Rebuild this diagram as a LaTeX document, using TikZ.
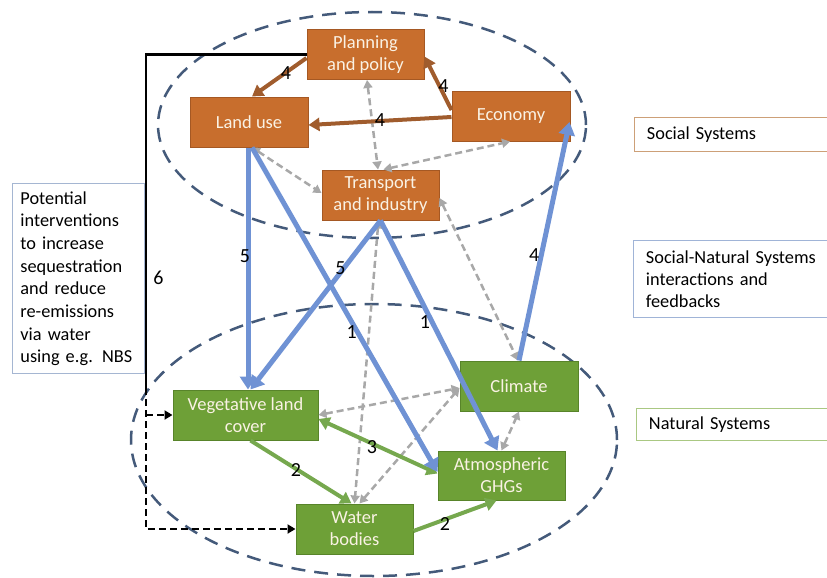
\documentclass[tikz,border=0pt]{standalone}
\usepackage{fontspec}
\setmainfont{Carlito}
\usetikzlibrary{arrows.meta}
\definecolor{orfill}{RGB}{200,110,45}
\definecolor{ordraw}{RGB}{165,88,35}
\definecolor{grfill}{RGB}{110,160,55}
\definecolor{grdraw}{RGB}{88,132,42}
\definecolor{nodetext}{RGB}{250,242,228}
\definecolor{bluearr}{RGB}{111,146,212}
\definecolor{brownarr}{RGB}{160,92,45}
\definecolor{greenarr}{RGB}{118,168,78}
\definecolor{grayarr}{RGB}{168,168,168}
\definecolor{ellcol}{RGB}{68,90,122}
\definecolor{boxsoc}{RGB}{205,160,120}
\definecolor{boxmix}{RGB}{160,180,215}
\definecolor{boxnat}{RGB}{170,200,130}
\definecolor{boxint}{RGB}{165,182,210}
\begin{document}
\begin{tikzpicture}[x=1pt,y=-1pt,
  basebox/.style={draw, line width=1pt, inner sep=2pt, align=center, text=nodetext,
    font=\fontsize{18.5}{22}\selectfont, minimum height=50pt},
  social/.style={basebox, fill=orfill, draw=ordraw},
  natural/.style={basebox, fill=grfill, draw=grdraw},
  blue/.style={draw=bluearr, line width=5pt, -{Triangle[length=13pt,width=16pt]}},
  brown/.style={draw=brownarr, line width=4pt, -{Triangle[length=11pt,width=13pt]}},
  green/.style={draw=greenarr, line width=4pt, -{Triangle[length=11pt,width=13pt]}},
  greenboth/.style={draw=greenarr, line width=4pt, {Triangle[length=11pt,width=13pt]}-{Triangle[length=11pt,width=13pt]}},
  grayboth/.style={draw=grayarr, line width=2.5pt, dash pattern=on 7pt off 4pt,
    {Triangle[length=8pt,width=9pt]}-{Triangle[length=8pt,width=9pt]}},
  lab/.style={font=\fontsize{20}{20}\selectfont, text=black, inner sep=0pt},
  ell/.style={draw=ellcol, line width=2.5pt, dash pattern=on 14pt off 9pt},
  sidebox/.style={draw, line width=0.9pt, anchor=north west, align=left, text=black,
    font=\fontsize{18.3}{22}\selectfont, inner xsep=10pt}
]
\useasboundingbox (0,0) rectangle (827,578);
\clip (0,0) rectangle (827,578);

% system ellipses
\draw[ell] (372,125) ellipse [x radius=214pt, y radius=113pt];
\draw[ell] (374,440) ellipse [x radius=243pt, y radius=136pt];

% nodes
\node[social, minimum width=117pt] (pp) at (365.5,54.5) {Planning\\and policy};
\node[social, minimum width=118pt] (lu) at (249,122) {Land use};
\node[social, minimum width=118pt] (eco) at (511,116) {Economy};
\node[social, minimum width=117pt] (tr) at (380.5,195) {Transport\\and industry};
\node[natural, minimum width=118pt] (cl) at (519,386) {Climate};
\node[natural, minimum width=145pt] (veg) at (245.5,415) {Vegetative land\\cover};
\node[natural, minimum width=127pt, minimum height=49pt] (atm) at (501.5,475.5) {Atmospheric\\GHGs};
\node[natural, minimum width=117pt] (wb) at (354.5,529) {Water\\bodies};

% side boxes
\node[sidebox, draw=boxint, minimum width=130pt, minimum height=190pt, text width=116pt, inner xsep=8pt] (int) at (12,183)
  {\fontsize{18.3}{22.7}\selectfont Potential\\interventions\\to increase\\sequestration\\and reduce\\re-emissions\\via water\\using e.g. NBS};
\node[sidebox, draw=boxsoc, minimum width=215pt, minimum height=34pt, text width=190pt] (soc) at (634,117) {Social Systems};
\node[sidebox, draw=boxmix, minimum width=215pt, minimum height=77pt, text width=190pt] (mix) at (633,240) {Social-Natural Systems\\interactions and\\feedbacks};
\node[sidebox, draw=boxnat, minimum width=215pt, minimum height=32pt, text width=190pt] (nat) at (636,408) {Natural Systems};

% gray dashed interactions
\draw[grayboth] ([xshift=1.5pt]pp.south) -- ([xshift=-2.5pt]tr.north);
\draw[grayboth] ([xshift=3pt]tr.north) -- ([xshift=-1pt]eco.south);
\draw[grayboth] ([xshift=3pt]lu.south) -- ([yshift=2pt]tr.west);
\draw[grayboth] ([yshift=-3pt]tr.east) -- ([xshift=-1pt]cl.north);
\draw[grayboth] ([xshift=-2pt]tr.south) -- (wb.north);
\draw[grayboth] ([xshift=5pt]wb.north) -- ([yshift=-2pt]cl.west);
\draw[grayboth] (veg.east) -- ([yshift=-2pt]cl.west);
\draw[grayboth] (atm.north) -- (cl.south);

% brown arrows (social)
\draw[brown] ([yshift=-3.5pt]pp.west) -- node[lab, pos=0.45, xshift=4pt, yshift=2pt] {4} ([xshift=3pt]lu.north);
\draw[brown] ([yshift=6pt]eco.west) -- node[lab, pos=0.45, xshift=4pt] {4} ([yshift=-2pt]pp.east);
\draw[brown] ([yshift=-1pt]eco.west) -- node[lab, pos=0.5, yshift=1pt] {4} ([yshift=-3pt]lu.east);

% green arrows (natural)
\draw[green] ([xshift=5pt]veg.south) -- node[lab, pos=0.45, yshift=-1pt] {2} ([xshift=-3pt]wb.north);
\draw[greenboth] ([yshift=2pt]atm.west) -- node[lab, pos=0.55, yshift=-4pt] {3} ([yshift=-4pt]veg.east);
\draw[green] ([yshift=-2pt]wb.east) -- node[lab, pos=0.38, yshift=-5pt] {2} ([xshift=-5pt]atm.south);

% blue arrows (social-natural)
\draw[blue] ([xshift=-1pt]lu.south) -- node[lab, pos=0.45, xshift=-3pt] {5} ([xshift=2.5pt]veg.north);
\draw[blue] ([xshift=3pt]lu.south) -- node[lab, pos=0.57, xshift=-6pt] {1} ([yshift=3.5pt]atm.west);
\draw[blue] (tr.south) -- node[lab, pos=0.27, xshift=-5pt, yshift=-2pt] {5} ([xshift=5pt]veg.north);
\draw[blue] (tr.south) -- node[lab, pos=0.44, xshift=-7pt] {1} ([xshift=-4pt]atm.north);
\draw[blue] (cl.north) -- node[lab, pos=0.44, xshift=-7pt] {4} ([xshift=-1pt,yshift=-6pt]eco.east);

% intervention path 6
\coordinate (k1) at (146,54.5);
\coordinate (k2) at (146,388);
\coordinate (k3) at (146,415);
\draw[black, line width=2.6pt] ([yshift=0pt]pp.west) -- (k1) -- node[lab, pos=0.67, right=6pt] {6} (k2);
\draw[black, line width=2.6pt, dash pattern=on 7pt off 4pt, -{Triangle[length=8pt,width=9pt]}] (k2) |- (wb.west);
\draw[black, line width=2.6pt, dash pattern=on 7pt off 4pt, -{Triangle[length=8pt,width=9pt]}] (k3) -- (veg.west);
\end{tikzpicture}
\end{document}
